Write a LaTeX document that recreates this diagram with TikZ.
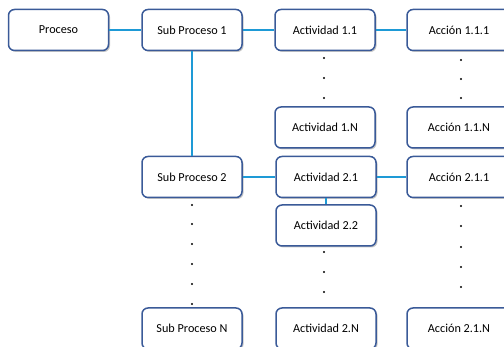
\documentclass[tikz,border=0pt]{standalone}
\usepackage{fontspec}
\setmainfont{Carlito}
\usepackage{tikz}
\usetikzlibrary{shadows}
\usepackage{xcolor}
\definecolor{boxline}{HTML}{3A5A98}
\definecolor{linkline}{HTML}{1E9AD6}

\begin{document}
\begin{tikzpicture}[x=1pt,y=-1pt,
  stepbox/.style={draw=boxline, line width=1.5pt, fill=white, rounded corners=6pt,
    minimum width=100pt, minimum height=41pt, font=\fontsize{12.2}{14}\selectfont,
    drop shadow={shadow xshift=1.5pt, shadow yshift=-1.5pt, opacity=0.45, fill=gray}},
  widebox/.style={stepbox, minimum width=104pt},
  link/.style={draw=linkline, line width=2.2pt}]
  \clip (0,0) rectangle (504,347);
  % boxes, placed at pixel positions of the sketch
  \node[stepbox] (proc) at (58.5,30) {Proceso};
  \node[stepbox] (sp1) at (192,30) {Sub Proceso 1};
  \node[stepbox] (sp2) at (192,177) {Sub Proceso 2};
  \node[stepbox] (spn) at (192,328.5) {Sub Proceso N};
  \node[stepbox] (a11) at (325,30) {Actividad 1.1};
  \node[stepbox] (a1n) at (325,127.5) {Actividad 1.N};
  \node[stepbox] (a21) at (326,177) {Actividad 2.1};
  \node[stepbox] (a22) at (326,225.5) {Actividad 2.2};
  \node[stepbox] (a2n) at (326,328.5) {Actividad 2.N};
  \node[widebox] (c111) at (459,30) {Acción 1.1.1};
  \node[widebox] (c11n) at (459,127.5) {Acción 1.1.N};
  \node[widebox] (c211) at (459,177) {Acción 2.1.1};
  \node[widebox] (c21n) at (459,328.5) {Acción 2.1.N};
  % connectors
  \draw[link] (proc.east) -- (sp1.west);
  \draw[link] (sp1.east) -- (a11.west);
  \draw[link] (a11.east) -- (c111.west);
  \draw[link] (sp1.south) -- (sp2.north);
  \draw[link] (sp2.east) -- (a21.west);
  \draw[link] (a21.east) -- (c211.west);
  \draw[link] (a21.south) -- (a22.north);
  % dots
  \foreach \y in {205,224,244,264,284,304} \fill (192,\y) circle (1.1pt);
  \foreach \y in {58,78,98,252,272,292} \fill (324,\y) circle (1.1pt);
  \foreach \y in {60,79,98,206,226,247,267,287} \fill (461,\y) circle (1.1pt);
\end{tikzpicture}
\end{document}
